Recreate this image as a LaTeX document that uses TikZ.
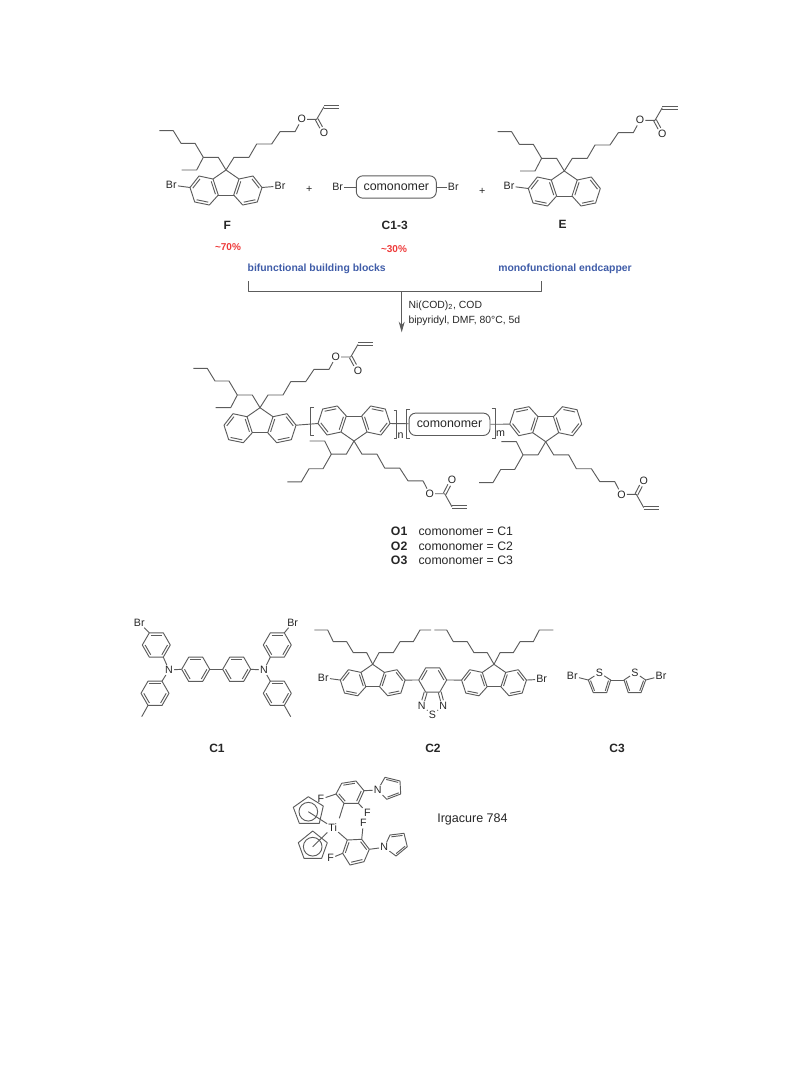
\documentclass[tikz,border=0pt]{standalone}
\usepackage{fontspec}
\setmainfont{Liberation Sans}
\usetikzlibrary{calc,arrows.meta}

\definecolor{inkgray}{gray}{0.36}
\definecolor{textgray}{gray}{0.15}
\definecolor{labelblue}{HTML}{3F5CA8}
\definecolor{labelred}{HTML}{EE3B3B}

% inner line of a ring double bond: ends pulled towards the ring centre
\newcommand{\ringdbl}[3]{\draw[bond] ($(#1)!0.2!(#3)$) -- ($(#2)!0.2!(#3)$);}
\newcommand{\kekule}[1]{\ringdbl{#1v0}{#1v1}{#1vc}\ringdbl{#1v2}{#1v3}{#1vc}\ringdbl{#1v4}{#1v5}{#1vc}}
% free double bond, two lines side by side, optional gap at the far end
\newcommand{\twobond}[3][0pt]{
  \draw[bond, shorten >=#1] ($(#2)!1.1pt!90:(#3)$) -- ($(#3)!1.1pt!-90:(#2)$);
  \draw[bond, shorten >=#1] ($(#2)!1.1pt!-90:(#3)$) -- ($(#3)!1.1pt!90:(#2)$);
}

\tikzset{
  bond/.style={line width=.7pt, draw=inkgray, line join=round},
  atom/.style={inner sep=.8pt, text=textgray, font=\fontsize{8}{9}\selectfont},
  comono/.style={draw=inkgray, line width=.7pt, rounded corners=5pt, inner sep=0pt, minimum height=16.8pt,
    text=textgray, font=\fontsize{9.3}{11}\selectfont},
  cmpd/.style={inner sep=0pt, yshift=-.7pt, text=textgray, font=\bfseries\fontsize{9}{11}\selectfont},
  share/.style={inner sep=0pt, yshift=-.7pt, text=labelred, font=\bfseries\fontsize{7.5}{9}\selectfont},
  role/.style={inner sep=0pt, yshift=-.7pt, text=labelblue, font=\bfseries\fontsize{7.8}{9}\selectfont},
  cond/.style={inner sep=0pt, yshift=-.4pt, anchor=west, text=textgray, font=\fontsize{7.8}{9}\selectfont},
  legend/.style={inner sep=0pt, yshift=-.7pt, anchor=west, text=textgray, font=\fontsize{9.2}{11}\selectfont},
  fluorene/.pic={
    \coordinate (c9) at (0,0);
    \coordinate (c9a) at (-13,9);   \coordinate (c8a) at (13,9);
    \coordinate (c4a) at (-7.7,25); \coordinate (c4b) at (7.7,25);
    \coordinate (c1) at (-27,6);    \coordinate (c8) at (27,6);
    \coordinate (c2) at (-36,17.5); \coordinate (c7) at (36,17.5);
    \coordinate (c3) at (-31.3,32); \coordinate (c6) at (31.3,32);
    \coordinate (c4) at (-16.7,35); \coordinate (c5) at (16.7,35);
    \coordinate (cl) at (-22,20.7); \coordinate (cr) at (22,20.7);
    \draw[bond] (c9) -- (c9a) -- (c1) -- (c2) -- (c3) -- (c4) -- (c4a) -- (c9a);
    \draw[bond] (c9) -- (c8a) -- (c8) -- (c7) -- (c6) -- (c5) -- (c4b) -- (c8a);
    \draw[bond] (c4a) -- (c4b);
    \foreach \a/\b in {c1/c2,c3/c4,c9a/c4a} {\ringdbl{\a}{\b}{cl}}
    \foreach \a/\b in {c8/c7,c6/c5,c8a/c4b} {\ringdbl{\a}{\b}{cr}}
  },
  sidechains/.pic={
    % 2-ethylhexyl
    \coordinate (eb) at (-22.7,-12.7);
    \draw[bond] (0,0) -- (-7.7,-12.7) -- (eb) -- (-31,-26.7) -- (-45,-26.7) -- (-52.7,-39.3) -- (-66.7,-39.3);
    \draw[bond] (eb) -- (-29.3,0) -- (-44.3,0);
    % hexyl acrylate
    \coordinate (ec) at (90.7,-50.7);
    \coordinate (ev) at (98,-63.3);
    \coordinate (ew) at (113.3,-63.3);
    \node[atom] (eo) at (75.7,-50.7) {O};
    \node[atom] (ed) at (98,-37.2) {O};
    \draw[bond] (0,0) -- (8,-12.7) -- (23,-12.7) -- (30.7,-26) -- (45.7,-26) -- (54,-38.3) -- (69,-38.3) -- (eo);
    \draw[bond] (eo) -- (ec) -- (ev);
    \twobond[4.5pt]{ec}{ed}
    \twobond{ev}{ew}
  },
  hexring/.pic={
    \coordinate (vc) at (0,0);
    \foreach \k in {0,...,5} {\coordinate (v\k) at (60*\k:14);}
    \draw[bond] (v0) -- (v1) -- (v2) -- (v3) -- (v4) -- (v5) -- cycle;
  },
}

\begin{document}
\begin{tikzpicture}[x=.75pt,y=-.75pt]
  \useasboundingbox (0,0) rectangle (809,1067);

  % monomers
  \pic (F) at (226,170) {fluorene};
  \pic at (226,170) {sidechains};
  \node[atom] (brFa) at (171.3,185) {Br};
  \node[atom] (brFb) at (280,186) {Br};
  \draw[bond] (brFa) -- (Fc2);
  \draw[bond] (Fc7) -- (brFb);
  \node[atom] (plusA) at (309.3,189.3) {+};

  \node[comono, minimum width=60pt] (boxC) at (396.3,187) {comonomer};
  \node[atom] (brCa) at (337.7,187) {Br};
  \node[atom] (brCb) at (453.3,187) {Br};
  \draw[bond] (brCa) -- (boxC);
  \draw[bond] (boxC) -- (brCb);
  \node[atom] (plusB) at (482.3,191) {+};

  \pic (E) at (564.3,171) {fluorene};
  \pic at (564.3,171) {sidechains};
  \node[atom] (brE) at (509,186) {Br};
  \draw[bond] (brE) -- (Ec2);

  \node[cmpd] (lblF) at (227.3,224) {F};
  \node[cmpd] (lblC) at (394.7,224) {C1-3};
  \node[cmpd] (lblE) at (562.7,223) {E};
  \node[share] (shareF) at (228,246) {\textasciitilde70\%};
  \node[share] (shareC) at (394,247.7) {\textasciitilde30\%};
  \node[role] (roleA) at (316.7,268.3) {bifunctional building blocks};
  \node[role] (roleB) at (565,268.3) {monofunctional endcapper};

  % reaction
  \coordinate (bkA) at (248.7,281);
  \coordinate (bkB) at (541,281);
  \coordinate (arrS) at (401.7,291.7);
  \coordinate (arrE) at (401.7,332.3);
  \draw[bond] (bkA) -- (248.7,291.7) -- (541,291.7) -- (bkB);
  \draw[bond,-{Stealth[length=8pt,width=4.5pt]}] (arrS) -- (arrE);
  \node[cond] (condA) at (408.3,305) {Ni(COD)\textsubscript{2}, COD};
  \node[cond] (condB) at (408.3,320) {bipyridyl, DMF, 80°C, 5d};

  % oligomer
  \pic (A) at (260,407.7) {fluorene};
  \pic at (260,407.7) {sidechains};
  \pic[rotate=180] (B) at (354,441) {fluorene};
  \pic[yscale=-1.04] at (354,441) {sidechains};
  \node[comono, minimum width=60.7pt] (boxO) at (449.5,424.3) {comonomer};
  \pic[rotate=180] (D) at (545.7,441.7) {fluorene};
  \pic[yscale=-1.04] at (545.7,441.7) {sidechains};
  \draw[bond] (Ac7) -- (Bc7);
  \draw[bond] (Bc2) -- (boxO);
  \draw[bond] (boxO) -- (Dc7);

  \draw[bond] (314,407.7) -- (310.7,407.7) -- (310.7,435.7) -- (314,435.7);
  \draw[bond] (393.5,410) -- (396.7,410) -- (396.7,438) -- (393.5,438);
  \draw[bond] (410,409.3) -- (406.7,409.3) -- (406.7,438.3) -- (410,438.3);
  \draw[bond] (491.7,408) -- (495,408) -- (495,438) -- (491.7,438);
  \node[atom] (idxN) at (400.5,435.5) {n};
  \node[atom] (idxM) at (500.5,434) {m};

  \foreach \i/\y in {1/530.7,2/545,3/559.3} {
    \node[legend, font=\bfseries\fontsize{9.2}{11}\selectfont] (nameO\i) at (390.7,\y) {O\i};
    \node[legend] (textO\i) at (418.3,\y) {comonomer = C\i};
  }

  % C1
  \foreach \r/\pos in {ra/{156.3,645},rb/{155,693.3},rc/{195.7,669.3},rd/{236.7,669.3},re/{277.3,645},rf/{277.3,693.3}} {
    \pic (\r) at (\pos) {hexring};
    \kekule{\r}
  }
  \node[atom] (nA) at (169,670) {N};
  \node[atom] (nB) at (264,670) {N};
  \node[atom] (brA) at (139.3,622.7) {Br};
  \node[atom] (brB) at (292.7,622.7) {Br};
  \coordinate (meA) at (141.7,716.7);
  \coordinate (meB) at (290.7,716.7);
  \draw[bond] (brA) -- (rav4);
  \draw[bond] (rav1) -- (nA);
  \draw[bond] (nA) -- (rbv5);
  \draw[bond] (rbv2) -- (meA);
  \draw[bond] (nA) -- (rcv3);
  \draw[bond] (rcv0) -- (rdv3);
  \draw[bond] (rdv0) -- (nB);
  \draw[bond] (nB) -- (rev2);
  \draw[bond] (rev5) -- (brB);
  \draw[bond] (nB) -- (rfv4);
  \draw[bond] (rfv1) -- (meB);
  \node[cmpd] (lblCa) at (217,747) {C1};

  % C2
  \pic[scale=.9] (L) at (372.7,664.3) {fluorene};
  \pic[scale=.9] (R) at (494,664.3) {fluorene};
  \pic (M) at (432.7,680) {hexring};
  \draw[bond] (Lc9) -- (366.7,652.7) -- (353.3,652.7) -- (346.7,641.7) -- (333.3,641.7) -- (327.7,630) -- (314.3,630);
  \draw[bond] (Lc9) -- (379,652.7) -- (393.3,652.7) -- (400,641.7) -- (413.3,641.7) -- (420,630) -- (431,630);
  \draw[bond] (Rc9) -- (487.3,652.7) -- (474,652.7) -- (467.3,641.7) -- (453.3,641.7) -- (446.7,630) -- (434.3,630);
  \draw[bond] (Rc9) -- (500,652.7) -- (513.3,652.7) -- (520,641.7) -- (533.3,641.7) -- (539.3,630) -- (553.3,630);
  \node[atom] (brL) at (323.3,677.7) {Br};
  \node[atom] (brR) at (541.7,679.3) {Br};
  \draw[bond] (brL) -- (Lc2);
  \draw[bond] (Rc7) -- (brR);
  \draw[bond] (Lc7) -- (Mv3);
  \draw[bond] (Mv0) -- (Rc2);
  \ringdbl{Mv3}{Mv4}{Mvc}
  \ringdbl{Mv5}{Mv0}{Mvc}
  \node[atom] (btA) at (421.7,705.7) {N};
  \node[atom] (btB) at (443.3,705.7) {N};
  \node[atom] (btS) at (432.5,714.5) {S};
  \twobond[4pt]{Mv2}{btA}
  \twobond[4pt]{Mv1}{btB}
  \draw[bond] (btA) -- (btS);
  \draw[bond] (btS) -- (btB);
  \node[cmpd] (lblCb) at (433,747) {C2};

  % C3
  \coordinate (tA1) at (588.3,680);   \coordinate (tA2) at (593.3,692.7);
  \coordinate (tA3) at (606.7,692.7); \coordinate (tA4) at (610.7,680);
  \coordinate (tB1) at (624,680);     \coordinate (tB2) at (628.3,692.7);
  \coordinate (tB3) at (641,692.7);   \coordinate (tB4) at (645.7,680);
  \coordinate (tAc) at (599.5,683);   \coordinate (tBc) at (634.8,683);
  \node[atom] (sA) at (599.3,672.7) {S};
  \node[atom] (sB) at (635,672.7) {S};
  \node[atom] (brS) at (572.3,676) {Br};
  \node[atom] (brT) at (661,676) {Br};
  \draw[bond] (sA) -- (tA1) -- (tA2) -- (tA3) -- (tA4) -- (sA);
  \draw[bond] (sB) -- (tB1) -- (tB2) -- (tB3) -- (tB4) -- (sB);
  \draw[bond] (brS) -- (tA1);
  \draw[bond] (tA4) -- (tB1);
  \draw[bond] (tB4) -- (brT);
  \ringdbl{tA1}{tA2}{tAc}
  \ringdbl{tA3}{tA4}{tAc}
  \ringdbl{tB1}{tB2}{tBc}
  \ringdbl{tB3}{tB4}{tBc}
  \node[cmpd] (lblCc) at (617,747) {C3};

  % Irgacure 784
  \node[atom] (ti) at (332.7,827.3) {Ti};
  \coordinate (uA) at (336,794);     \coordinate (uB) at (341.7,783.3);
  \coordinate (uC) at (356,781);     \coordinate (uD) at (364,790.7);
  \coordinate (uE) at (358.3,803.3); \coordinate (uG) at (344,803.3);
  \coordinate (uM) at (350,792.5);   \coordinate (uT) at (339.3,818.3);
  \draw[bond] (uA) -- (uB) -- (uC) -- (uD) -- (uE) -- (uG) -- cycle;
  \draw[bond] (uG) -- (uT);
  \foreach \a/\b in {uB/uC,uD/uE,uG/uA} {\ringdbl{\a}{\b}{uM}}
  \node[atom] (fA) at (321,799) {F};
  \node[atom] (fB) at (367.3,812.7) {F};
  \node[atom] (nU) at (377.7,790) {N};
  \draw[bond] (uA) -- (fA);
  \draw[bond] (uE) -- (fB);
  \draw[bond] (uD) -- (nU);
  \coordinate (pA1) at (385,777.3); \coordinate (pA2) at (400,781);
  \coordinate (pA3) at (400.7,794); \coordinate (pA4) at (386.7,799.3);
  \coordinate (pAc) at (391,788);
  \draw[bond] (nU) -- (pA1) -- (pA2) -- (pA3) -- (pA4) -- (nU);
  \ringdbl{pA1}{pA2}{pAc}
  \ringdbl{pA3}{pA4}{pAc}

  \coordinate (wP) at (347.3,840);   \coordinate (wQ) at (361.7,839.3);
  \coordinate (wR) at (369.3,849.3); \coordinate (wS) at (364,861.7);
  \coordinate (wT) at (350,865);     \coordinate (wU) at (342.7,853.3);
  \coordinate (wM) at (356,851);
  \draw[bond] (wP) -- (wQ) -- (wR) -- (wS) -- (wT) -- (wU) -- cycle;
  \draw[bond] (ti) -- (wP);
  \foreach \a/\b in {wP/wU,wQ/wR,wS/wT} {\ringdbl{\a}{\b}{wM}}
  \node[atom] (fC) at (363.3,823.3) {F};
  \node[atom] (fD) at (330.7,858.3) {F};
  \node[atom] (nW) at (384.3,847.3) {N};
  \draw[bond] (wQ) -- (fC);
  \draw[bond] (wU) -- (fD);
  \draw[bond] (wR) -- (nW);
  \coordinate (pB1) at (390,835);     \coordinate (pB2) at (404,833.3);
  \coordinate (pB3) at (407.3,846.7); \coordinate (pB4) at (396,856);
  \coordinate (pBc) at (396.5,844);
  \draw[bond] (nW) -- (pB1) -- (pB2) -- (pB3) -- (pB4) -- (nW);
  \ringdbl{pB1}{pB2}{pBc}
  \ringdbl{pB3}{pB4}{pBc}

  \coordinate (cpA) at (308.3,811.7);
  \coordinate (cpB) at (312.7,846.7);
  \draw[bond] (308.3,796.7) -- (323.3,806) -- (319.3,823.3) -- (299.3,823.3) -- (293.3,807.3) -- cycle;
  \draw[bond] (312.7,831) -- (327.3,842.7) -- (321.7,858.3) -- (304,858.3) -- (298.3,842.7) -- cycle;
  \draw[bond] (cpA) circle (7pt);
  \draw[bond] (cpB) circle (7pt);
  \draw[bond] (ti) -- (cpA);
  \draw[bond] (ti) -- (cpB);
  \node[legend, font=\fontsize{9.4}{11}\selectfont] (lblI) at (437,818) {Irgacure 784};
\end{tikzpicture}
\end{document}
